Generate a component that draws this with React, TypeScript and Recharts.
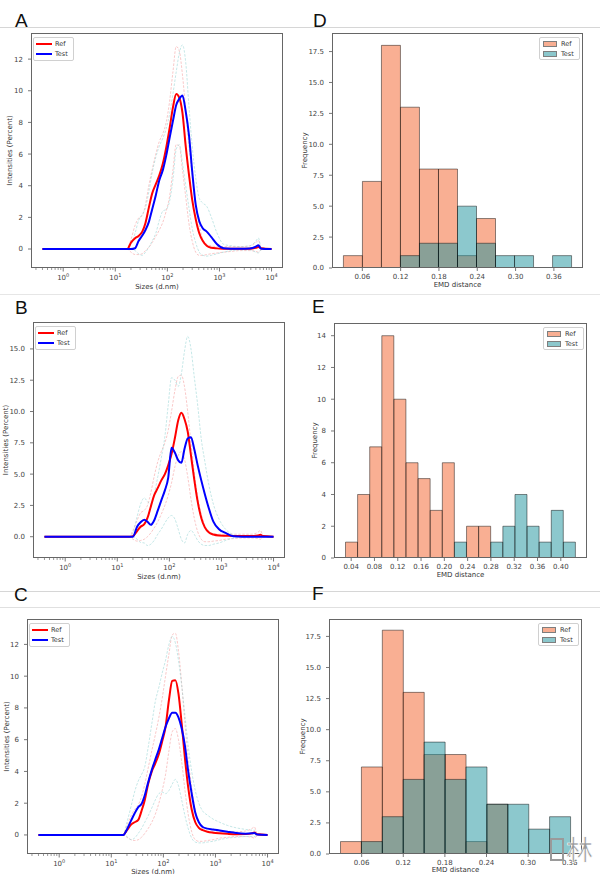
import React from "react";
import { LineChart, Line, XAxis, YAxis, ComposedChart, Bar } from "recharts";

const FONT = "DejaVu Sans, Verdana, sans-serif";

// particle sizes (d.nm) where the DLS curves are sampled
const sizes = [0.4, 17, 20, 24, 28, 33, 38, 44, 51, 60, 70, 82, 95, 110, 128, 148, 170, 195, 225, 260, 300, 350, 410, 480, 570, 700, 900, 1200, 1700, 2500, 3800, 5000, 5600, 6300, 10000];

// panel A
const refA = [0, 0, 0.4, 0.68, 0.82, 1.1, 1.65, 2.6, 3.5, 4.1, 4.65, 5.4, 6.4, 7.6, 8.95, 9.8, 9.55, 8.6, 6.5, 4.7, 3.1, 1.9, 1.0, 0.5, 0.2, 0.08, 0.04, 0.02, 0.01, 0.01, 0.02, 0.08, 0.12, 0.05, 0];
const testA = [0, 0, 0, 0.05, 0.5, 0.85, 1.2, 1.7, 2.5, 3.4, 4.35, 5.0, 5.9, 7.0, 8.1, 9.1, 9.5, 9.7, 8.7, 7.2, 4.9, 2.8, 1.75, 1.3, 1.1, 0.75, 0.3, 0.05, 0.02, 0.01, 0.03, 0.15, 0.24, 0.02, 0];
const refHiA = [0, 0, 0.6, 1.5, 1.95, 2.1, 2.8, 4.0, 5.0, 6.0, 6.8, 7.3, 8.0, 9.3, 11.2, 12.8, 12.5, 11.0, 8.8, 6.5, 4.6, 2.8, 1.5, 0.6, 0.3, 0.2, 0.15, 0.15, 0.15, 0.15, 0.2, 0.4, 0.55, 0.1, 0];
const refLoA = [0, 0, -0.2, -0.35, -0.35, -0.3, -0.1, 0.1, 0.4, 0.8, 1.2, 1.7, 2.4, 3.3, 5.0, 6.6, 6.5, 5.0, 3.3, 1.6, 0.5, -0.2, -0.4, -0.4, -0.35, -0.3, -0.25, -0.2, -0.15, -0.1, -0.1, -0.15, -0.2, -0.05, 0];
const testHiA = [0, 0, 0.3, 1.0, 1.8, 2.2, 2.6, 3.6, 4.8, 5.8, 6.5, 7.0, 7.6, 8.5, 9.8, 11.2, 12.4, 12.9, 11.8, 9.0, 6.5, 4.5, 3.2, 2.9, 2.7, 2.0, 1.0, 0.3, 0.2, 0.15, 0.2, 0.5, 0.7, 0.1, 0];
const testLoA = [0, 0, 0, -0.1, -0.3, -0.4, -0.2, 0.1, 0.5, 1.0, 1.8, 2.4, 2.5, 3.0, 4.4, 6.3, 6.6, 5.4, 4.0, 2.6, 1.3, 0.4, -0.2, -0.4, -0.45, -0.4, -0.3, -0.2, -0.1, -0.05, -0.05, -0.2, -0.25, -0.05, 0];

// panel B
const refB = [0, 0, 0.05, 0.45, 0.8, 1.0, 1.5, 2.4, 3.3, 3.9, 4.5, 5.0, 5.7, 6.6, 7.9, 9.3, 9.9, 9.4, 8.4, 6.5, 4.6, 2.8, 1.5, 0.75, 0.35, 0.18, 0.1, 0.08, 0.06, 0.05, 0.06, 0.1, 0.15, 0.05, 0];
const testB = [0, 0, 0, 0.8, 1.15, 1.35, 1.2, 0.95, 1.3, 2.1, 2.9, 3.7, 4.7, 7.1, 6.7, 6.1, 5.9, 7.0, 7.85, 7.95, 7.0, 5.7, 4.5, 3.4, 2.3, 1.2, 0.6, 0.3, 0.03, 0, 0, 0, 0, 0, 0];
const refHiB = [0, 0, 0.5, 1.3, 1.9, 2.1, 2.5, 3.5, 4.8, 6.0, 6.8, 7.5, 8.5, 10.0, 11.7, 12.8, 12.9, 12.0, 10.0, 7.5, 5.2, 3.2, 1.8, 0.9, 0.4, 0.25, 0.2, 0.2, 0.2, 0.2, 0.2, 0.35, 0.5, 0.1, 0];
const refLoB = [0, 0, -0.2, -0.35, -0.3, -0.2, 0, 0.3, 0.7, 1.2, 1.8, 2.5, 3.3, 4.3, 5.6, 6.5, 6.8, 6.2, 4.8, 3.0, 1.5, 0.4, -0.2, -0.4, -0.4, -0.35, -0.3, -0.2, -0.15, -0.1, -0.1, -0.15, -0.2, -0.05, 0];
const testHiB = [0, 0, 0.3, 1.6, 2.6, 3.1, 2.8, 2.6, 3.4, 4.8, 6.3, 8.0, 10.5, 12.7, 12.5, 12.0, 13.0, 14.8, 16.0, 15.0, 12.8, 10.5, 7.8, 6.0, 4.2, 2.6, 1.4, 0.6, 0.15, 0, 0, 0, 0, 0, 0];
const testLoB = [0, 0, 0, -0.2, -0.45, -0.5, -0.7, -0.6, -0.3, 0.2, 0.6, 1.1, 1.5, 1.7, 1.4, 0.6, -0.2, -0.5, 0.2, 0.5, 0.2, -0.3, -0.6, -0.7, -0.7, -0.6, -0.5, -0.3, -0.1, 0, 0, 0, 0, 0, 0];

// panel C
const refC = [0, 0, 0.3, 0.65, 0.8, 0.95, 1.5, 2.2, 3.2, 4.0, 4.5, 5.1, 5.9, 6.8, 8.5, 9.7, 9.75, 8.9, 7.0, 4.8, 3.0, 1.6, 0.8, 0.45, 0.3, 0.2, 0.14, 0.1, 0.07, 0.05, 0.06, 0.1, 0.15, 0.04, 0];
const testC = [0, 0, 0.35, 0.9, 1.35, 1.75, 1.95, 2.5, 3.3, 4.1, 4.75, 5.4, 6.1, 6.8, 7.35, 7.7, 7.7, 7.4, 6.7, 5.6, 4.0, 2.6, 1.4, 0.8, 0.5, 0.4, 0.35, 0.28, 0.2, 0.12, 0.08, 0.1, 0.12, 0.03, 0];
const refHiC = [0, 0, 0.6, 1.2, 1.6, 1.9, 2.4, 3.2, 4.2, 5.3, 6.3, 7.4, 8.6, 10.0, 11.4, 12.6, 12.7, 11.6, 9.5, 7.0, 4.8, 3.0, 1.6, 0.8, 0.4, 0.25, 0.2, 0.2, 0.2, 0.2, 0.25, 0.4, 0.5, 0.1, 0];
const refLoC = [0, 0, -0.15, -0.3, -0.35, -0.3, -0.15, 0.1, 0.4, 0.8, 1.3, 2.0, 2.8, 3.8, 5.3, 6.5, 6.7, 6.0, 4.6, 2.8, 1.3, 0.2, -0.3, -0.4, -0.4, -0.35, -0.3, -0.2, -0.15, -0.1, -0.1, -0.15, -0.2, -0.05, 0];
const testHiC = [0, 0, 0.8, 1.8, 2.7, 3.4, 3.8, 4.3, 5.5, 7.0, 8.4, 9.3, 10.2, 11.0, 12.0, 12.5, 12.1, 11.0, 9.4, 7.5, 5.6, 4.0, 2.8, 2.0, 1.5, 1.25, 1.0, 0.8, 0.6, 0.45, 0.35, 0.3, 0.3, 0.05, 0];
const testLoC = [0, 0, -0.1, -0.3, -0.2, 0.1, 0.4, 0.8, 1.2, 1.7, 2.2, 2.6, 2.7, 2.6, 2.8, 3.2, 3.5, 3.1, 2.2, 1.2, 0.4, -0.2, -0.45, -0.5, -0.5, -0.45, -0.4, -0.3, -0.2, -0.15, -0.1, -0.1, -0.1, 0, 0];

// EMD histograms (counts per bin) and the outer bin edges
const refD = [1, 7, 18, 13, 8, 8, 1, 4, 0, 0, 0, 0];
const testD = [0, 0, 0, 1, 2, 2, 5, 2, 1, 1, 0, 1];
const edgesD: [number, number] = [0.0304, 0.3877];
const refE = [1, 4, 7, 14, 10, 6, 5, 3, 6, 0, 2, 2, 0, 0, 0, 0, 0, 0, 0];
const testE = [0, 0, 0, 0, 0, 0, 0, 0, 0, 1, 0, 0, 1, 2, 4, 2, 1, 3, 1];
const edgesE: [number, number] = [0.0302, 0.4253];
const refF = [1, 7, 18, 13, 8, 8, 1, 4, 0, 0, 0];
const testF = [0, 1, 3, 6, 9, 6, 7, 4, 4, 2, 3];
const edgesF: [number, number] = [0.0296, 0.361];

const sizeTicks = [1, 10, 100, 1000, 10000];
const emdTicksDF = [0.06, 0.12, 0.18, 0.24, 0.3, 0.36];
const emdTicksE = [0.04, 0.08, 0.12, 0.16, 0.2, 0.24, 0.28, 0.32, 0.36, 0.4];
const yTicksAC = [0, 2, 4, 6, 8, 10, 12];
const yTicksB = [0, 2.5, 5, 7.5, 10, 12.5, 15];
const yTicksDF = [0, 2.5, 5, 7.5, 10, 12.5, 15, 17.5];
const yTicksE = [0, 2, 4, 6, 8, 10, 12, 14];

const SIZE_DOMAIN: [number, number] = [0.241, 16600];
const minorTicks: number[] = [];
for (let e = -1; e <= 3; e++) {
  for (let m = 2; m <= 9; m++) {
    const v = m * Math.pow(10, e);
    if (v > SIZE_DOMAIN[0] && v < SIZE_DOMAIN[1]) minorTicks.push(v);
  }
}
const allSizeTicks = [...sizeTicks, ...minorTicks].sort((a, b) => a - b);

const RED_BAR = "#F35F27";
const TEAL_BAR = "#19919B";

type Frame = { x: number; y: number; w: number; h: number };

const ML = 30;
const MT = 4;
const MR = 4;
const XH = 22;

function LogTick(props: any) {
  const { x, y, payload } = props;
  const p = Math.log10(payload.value);
  const e = Math.round(p);
  const major = Math.abs(p - e) < 1e-6;
  return (
    <g>
      <line x1={x} x2={x} y1={y} y2={y + (major ? 3.5 : 2)} stroke="#555" strokeWidth={major ? 0.8 : 0.6} />
      {major && (
        <text x={x} y={y + 12} textAnchor="middle" fontSize={7} fill="#444" fontFamily={FONT}>
          10<tspan dy={-3} fontSize={5}>{e}</tspan>
        </text>
      )}
    </g>
  );
}

function FrameBox({ frame }: { frame: Frame }) {
  return (
    <div
      style={{
        position: "absolute",
        left: ML,
        top: MT,
        width: frame.w,
        height: frame.h,
        border: "1px solid #666",
        boxSizing: "border-box",
        pointerEvents: "none",
      }}
    />
  );
}

function LineLegend() {
  const row = (color: string, name: string) => (
    <div style={{ display: "flex", alignItems: "center", height: 10 }}>
      <span style={{ display: "inline-block", width: 16, height: 2, background: color, marginLeft: 2 }} />
      <span style={{ marginLeft: 3 }}>{name}</span>
    </div>
  );
  return (
    <div
      style={{
        position: "absolute",
        left: ML + 2,
        top: MT + 4,
        width: 41,
        height: 24,
        boxSizing: "border-box",
        paddingTop: 1,
        border: "1px solid #d0d0d0",
        borderRadius: 2,
        background: "rgba(255,255,255,0.85)",
        fontFamily: FONT,
        fontSize: 6.5,
        color: "#333",
        lineHeight: "10px",
      }}
    >
      {row("#ff0000", "Ref")}
      {row("#0000ff", "Test")}
    </div>
  );
}

function HistLegend({ frame }: { frame: Frame }) {
  const row = (color: string, name: string) => (
    <div style={{ display: "flex", alignItems: "center", height: 10 }}>
      <span
        style={{
          display: "inline-block",
          width: 14,
          height: 6,
          background: color,
          opacity: 0.5,
          border: "1px solid #000",
          boxSizing: "border-box",
          marginLeft: 3,
        }}
      />
      <span style={{ marginLeft: 4 }}>{name}</span>
    </div>
  );
  return (
    <div
      style={{
        position: "absolute",
        left: ML + frame.w - 3 - 41,
        top: MT + 4,
        width: 41,
        height: 23,
        boxSizing: "border-box",
        paddingTop: 1,
        border: "1px solid #d0d0d0",
        borderRadius: 2,
        background: "rgba(255,255,255,0.85)",
        fontFamily: FONT,
        fontSize: 6.5,
        color: "#333",
        lineHeight: "10px",
      }}
    >
      {row(RED_BAR, "Ref")}
      {row(TEAL_BAR, "Test")}
    </div>
  );
}

interface SizePanelProps {
  frame: Frame;
  r: number[];
  t: number[];
  rHi: number[];
  rLo: number[];
  tHi: number[];
  tLo: number[];
  yDomain: [number, number];
  yTicks: number[];
  yFmt: (v: number) => string;
}

function SizePanel({ frame, r, t, rHi, rLo, tHi, tLo, yDomain, yTicks, yFmt }: SizePanelProps) {
  const rows = sizes.map((s, i) => ({ size: s, refMean: r[i], testMean: t[i], rHi: rHi[i], rLo: rLo[i], tHi: tHi[i], tLo: tLo[i] }));
  const dashed = (key: string, color: string) => (
    <Line
      key={key}
      dataKey={key}
      type="monotone"
      stroke={color}
      strokeWidth={0.8}
      strokeOpacity={0.75}
      strokeDasharray="2.5 1.5"
      dot={false}
      isAnimationActive={false}
    />
  );
  return (
    <div style={{ position: "absolute", left: frame.x - ML, top: frame.y - MT }}>
      <LineChart
        width={ML + frame.w + MR}
        height={MT + frame.h + XH}
        data={rows}
        margin={{ top: MT, right: MR, left: 0, bottom: 0 }}
        style={{ fontFamily: FONT }}
      >
        <XAxis
          dataKey="size"
          type="number"
          scale="log"
          domain={SIZE_DOMAIN}
          allowDataOverflow
          ticks={allSizeTicks}
          interval={0}
          tick={<LogTick />}
          tickLine={false}
          axisLine={false}
          tickSize={0}
          tickMargin={0}
          height={XH}
        />
        <YAxis
          type="number"
          domain={yDomain}
          allowDataOverflow
          ticks={yTicks}
          interval={0}
          tickFormatter={yFmt}
          width={ML}
          tickSize={3}
          tickMargin={5}
          axisLine={false}
          tickLine={{ stroke: "#555", strokeWidth: 0.8 }}
          tick={{ fontSize: 7, fill: "#444", fontFamily: FONT }}
        />
        {dashed("rHi", "#f5a3a3")}
        {dashed("rLo", "#f5a3a3")}
        {dashed("tHi", "#9ed6d6")}
        {dashed("tLo", "#9ed6d6")}
        <Line dataKey="refMean" type="monotone" stroke="#ff0000" strokeWidth={2} dot={false} isAnimationActive={false} />
        <Line dataKey="testMean" type="monotone" stroke="#0000ff" strokeWidth={2} dot={false} isAnimationActive={false} />
      </LineChart>
      <FrameBox frame={frame} />
      <LineLegend />
    </div>
  );
}

interface HistPanelProps {
  frame: Frame;
  r: number[];
  t: number[];
  edges: [number, number];
  xDomain: [number, number];
  xTicks: number[];
  yDomain: [number, number];
  yTicks: number[];
  yFmt: (v: number) => string;
}

function HistPanel({ frame, r, t, edges, xDomain, xTicks, yDomain, yTicks, yFmt }: HistPanelProps) {
  const step = (edges[1] - edges[0]) / r.length;
  const rows = r.map((v, i) => ({ bin: i, mid: edges[0] + (i + 0.5) * step, refCount: v, testCount: t[i] }));
  const pad = frame.w / 22;
  return (
    <div style={{ position: "absolute", left: frame.x - ML, top: frame.y - MT }}>
      <ComposedChart
        width={ML + frame.w + MR}
        height={MT + frame.h + XH}
        data={rows}
        margin={{ top: MT, right: MR, left: 0, bottom: 0 }}
        barCategoryGap={0}
        barGap={0}
        style={{ fontFamily: FONT }}
      >
        <XAxis xAxisId="r" dataKey="bin" type="category" hide padding={{ left: pad, right: pad }} />
        <XAxis xAxisId="t" dataKey="bin" type="category" hide padding={{ left: pad, right: pad }} />
        <XAxis
          xAxisId="n"
          dataKey="mid"
          type="number"
          domain={xDomain}
          allowDataOverflow
          ticks={xTicks}
          interval={0}
          tickFormatter={(v: number) => v.toFixed(2)}
          height={XH}
          tickSize={3}
          tickMargin={3.5}
          axisLine={false}
          tickLine={{ stroke: "#555", strokeWidth: 0.8 }}
          tick={{ fontSize: 7, fill: "#444", fontFamily: FONT }}
        />
        <YAxis
          type="number"
          domain={yDomain}
          allowDataOverflow
          ticks={yTicks}
          interval={0}
          tickFormatter={yFmt}
          width={ML}
          tickSize={3}
          tickMargin={5}
          axisLine={false}
          tickLine={{ stroke: "#555", strokeWidth: 0.8 }}
          tick={{ fontSize: 7, fill: "#444", fontFamily: FONT }}
        />
        <Bar xAxisId="r" dataKey="refCount" fill={RED_BAR} fillOpacity={0.5} stroke="#000" strokeOpacity={0.45} strokeWidth={1} isAnimationActive={false} />
        <Bar xAxisId="t" dataKey="testCount" fill={TEAL_BAR} fillOpacity={0.5} stroke="#000" strokeOpacity={0.45} strokeWidth={1} isAnimationActive={false} />
        <Line xAxisId="n" dataKey="refCount" stroke="none" dot={false} activeDot={false} legendType="none" isAnimationActive={false} />
      </ComposedChart>
      <FrameBox frame={frame} />
      <HistLegend frame={frame} />
    </div>
  );
}

const frameA: Frame = { x: 31, y: 33, w: 252, h: 235 };
const frameB: Frame = { x: 33, y: 322, w: 252, h: 236 };
const frameC: Frame = { x: 27, y: 619, w: 252, h: 235 };
const frameD: Frame = { x: 332, y: 33, w: 251, h: 235 };
const frameE: Frame = { x: 334, y: 323, w: 253, h: 235 };
const frameF: Frame = { x: 329, y: 619, w: 253, h: 235 };

const intFmt = (v: number) => String(v);
const oneDec = (v: number) => v.toFixed(1);

function Titles() {
  const t = { fontFamily: FONT, fontSize: 7, fill: "#333", dominantBaseline: "central" as const, textAnchor: "middle" as const };
  const ylab = (x: number, y: number, s: string) => (
    <text {...t} x={x} y={y} transform={`rotate(-90 ${x} ${y})`}>{s}</text>
  );
  const xlab = (x: number, y: number, s: string) => (
    <text {...t} x={x} y={y}>{s}</text>
  );
  const letter = { fontFamily: "Liberation Sans, Arial, sans-serif", fontSize: 19, fill: "#111" };
  return (
    <svg width={600} height={874} style={{ position: "absolute", left: 0, top: 0, pointerEvents: "none" }}>
      <line x1={0} x2={600} y1={27.5} y2={27.5} stroke="#d6d6d6" />
      <line x1={0} x2={600} y1={294.5} y2={294.5} stroke="#e6e6e6" />
      <line x1={0} x2={600} y1={591.5} y2={591.5} stroke="#d6d6d6" />
      <line x1={0} x2={600} y1={607.5} y2={607.5} stroke="#e0e0e0" />
      <text {...letter} x={15} y={27}>A</text>
      <text {...letter} x={313} y={27}>D</text>
      <text {...letter} x={15} y={314}>B</text>
      <text {...letter} x={312} y={313}>E</text>
      <text {...letter} x={14} y={601}>C</text>
      <text {...letter} x={312} y={600}>F</text>
      {ylab(10, 150.5, "Intensities (Percent)")}
      {xlab(157, 287, "Sizes (d.nm)")}
      {ylab(6, 440, "Intensities (Percent)")}
      {xlab(159, 576.5, "Sizes (d.nm)")}
      {ylab(7, 736.5, "Intensities (Percent)")}
      {xlab(153, 871.5, "Sizes (d.nm)")}
      {ylab(305, 150.5, "Frequency")}
      {xlab(457.5, 285, "EMD distance")}
      {ylab(315, 440.5, "Frequency")}
      {xlab(460.5, 575, "EMD distance")}
      {ylab(303, 736.5, "Frequency")}
      {xlab(455.5, 870, "EMD distance")}
      <rect x={551} y={839} width={12} height={21} fill="none" stroke="#9a9a9a" strokeWidth={2} />
      <text x={566} y={860} fontSize={27} fill="#9a9a9a" stroke="#fff" strokeWidth={0.6} fontFamily="Noto Sans CJK SC, sans-serif">林</text>
    </svg>
  );
}

export default function App() {
  return (
    <div style={{ position: "absolute", left: 0, top: 0, width: 600, height: 874, background: "#fff", overflow: "hidden" }}>
      <SizePanel frame={frameA} r={refA} t={testA} rHi={refHiA} rLo={refLoA} tHi={testHiA} tLo={testLoA} yDomain={[-1.2, 13.65]} yTicks={yTicksAC} yFmt={intFmt} />
      <SizePanel frame={frameB} r={refB} t={testB} rHi={refHiB} rLo={refLoB} tHi={testHiB} tLo={testLoB} yDomain={[-1.7, 17.15]} yTicks={yTicksB} yFmt={oneDec} />
      <SizePanel frame={frameC} r={refC} t={testC} rHi={refHiC} rLo={refLoC} tHi={testHiC} tLo={testLoC} yDomain={[-1.2, 13.6]} yTicks={yTicksAC} yFmt={intFmt} />
      <HistPanel frame={frameD} r={refD} t={testD} edges={edgesD} xDomain={[0.0125, 0.4056]} xTicks={emdTicksDF} yDomain={[0, 19]} yTicks={yTicksDF} yFmt={oneDec} />
      <HistPanel frame={frameE} r={refE} t={testE} edges={edgesE} xDomain={[0.0105, 0.445]} xTicks={emdTicksE} yDomain={[0, 14.8]} yTicks={yTicksE} yFmt={intFmt} />
      <HistPanel frame={frameF} r={refF} t={testF} edges={edgesF} xDomain={[0.0129, 0.3777]} xTicks={emdTicksDF} yDomain={[0, 18.9]} yTicks={yTicksDF} yFmt={oneDec} />
      <Titles />
    </div>
  );
}
